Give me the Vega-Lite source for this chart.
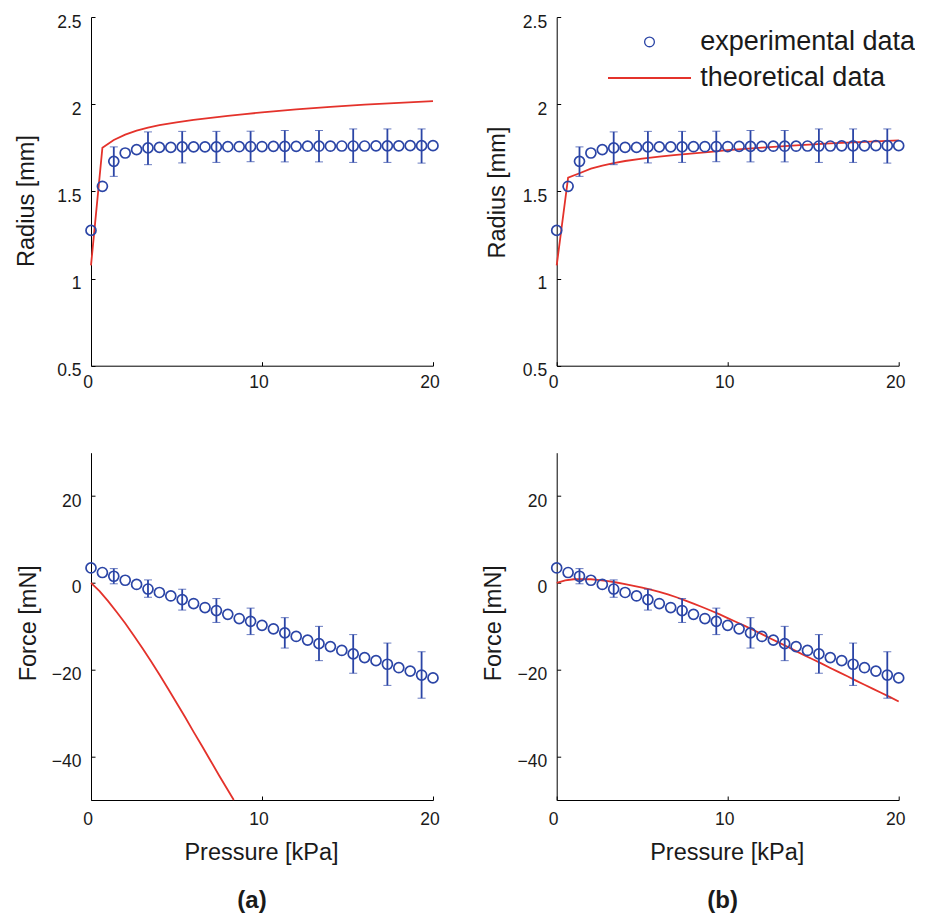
{
  "$schema": "https://vega.github.io/schema/vega-lite/v6.json",
  "padding": {"left": 14, "top": 13, "right": 0, "bottom": 0},
  "background": "white",
  "config": {
    "font": "Liberation Sans",
    "view": {"stroke": null},
    "axis": {"grid": false, "domainColor": "#000000", "domainWidth": 1, "tickColor": "#000000", "tickWidth": 1, "tickSize": -4, "labelFontSize": 17.5, "labelColor": "#1a1a1a", "titleFontSize": 23.5, "titleFontWeight": "normal", "titleColor": "#1a1a1a", "labelFlush": false, "labelOverlap": false},
    "axisX": {"labelPadding": 12, "labelOffset": -3.5},
    "axisY": {"labelPadding": 14, "labelOffset": 5, "titleBaseline": "alphabetic"}
  },
  "datasets": {
    "exp": [
      {"p": 0, "r": 1.276, "f": 3.45},
      {"p": 0.667, "r": 1.529, "f": 2.4},
      {"p": 1.333, "r": 1.672, "f": 1.54},
      {"p": 2, "r": 1.72, "f": 0.62},
      {"p": 2.667, "r": 1.739, "f": -0.35},
      {"p": 3.333, "r": 1.749, "f": -1.4},
      {"p": 4, "r": 1.752, "f": -2.2},
      {"p": 4.667, "r": 1.752, "f": -3.0},
      {"p": 5.333, "r": 1.755, "f": -3.83},
      {"p": 6, "r": 1.755, "f": -4.75},
      {"p": 6.667, "r": 1.755, "f": -5.67},
      {"p": 7.333, "r": 1.755, "f": -6.36},
      {"p": 8, "r": 1.756, "f": -7.23},
      {"p": 8.667, "r": 1.756, "f": -8.2},
      {"p": 9.333, "r": 1.757, "f": -8.85},
      {"p": 10, "r": 1.757, "f": -9.77},
      {"p": 10.667, "r": 1.758, "f": -10.57},
      {"p": 11.333, "r": 1.758, "f": -11.5},
      {"p": 12, "r": 1.758, "f": -12.33},
      {"p": 12.667, "r": 1.759, "f": -13.17},
      {"p": 13.333, "r": 1.759, "f": -13.98},
      {"p": 14, "r": 1.759, "f": -14.67},
      {"p": 14.667, "r": 1.76, "f": -15.55},
      {"p": 15.333, "r": 1.76, "f": -16.35},
      {"p": 16, "r": 1.76, "f": -17.2},
      {"p": 16.667, "r": 1.761, "f": -17.9},
      {"p": 17.333, "r": 1.761, "f": -18.73},
      {"p": 18, "r": 1.761, "f": -19.53},
      {"p": 18.667, "r": 1.762, "f": -20.3},
      {"p": 19.333, "r": 1.762, "f": -21.22},
      {"p": 20, "r": 1.762, "f": -21.88}
    ],
    "err": [
      {"p": 1.333, "rlo": 1.586, "rhi": 1.755, "flo": -0.2, "fhi": 3.3},
      {"p": 3.333, "rlo": 1.653, "rhi": 1.841, "flo": -3.3, "fhi": 0.7},
      {"p": 5.333, "rlo": 1.663, "rhi": 1.844, "flo": -6.25, "fhi": -1.45},
      {"p": 7.333, "rlo": 1.666, "rhi": 1.844, "flo": -9.1, "fhi": -3.6},
      {"p": 9.333, "rlo": 1.67, "rhi": 1.845, "flo": -11.9, "fhi": -5.8},
      {"p": 11.333, "rlo": 1.669, "rhi": 1.849, "flo": -15.0, "fhi": -8.0},
      {"p": 13.333, "rlo": 1.669, "rhi": 1.849, "flo": -17.9, "fhi": -10.0},
      {"p": 15.333, "rlo": 1.666, "rhi": 1.858, "flo": -20.8, "fhi": -11.9},
      {"p": 17.333, "rlo": 1.666, "rhi": 1.858, "flo": -23.6, "fhi": -13.85},
      {"p": 19.333, "rlo": 1.662, "rhi": 1.858, "flo": -26.55, "fhi": -15.85}
    ],
    "thAR": [
      {"p": 0, "v": 1.075}, {"p": 0.667, "v": 1.75}, {"p": 1.333, "v": 1.795}, {"p": 2, "v": 1.825},
      {"p": 2.667, "v": 1.848}, {"p": 3.333, "v": 1.866}, {"p": 4, "v": 1.88}, {"p": 5, "v": 1.896},
      {"p": 6, "v": 1.91}, {"p": 7, "v": 1.922}, {"p": 8, "v": 1.933}, {"p": 9, "v": 1.943},
      {"p": 10, "v": 1.953}, {"p": 12, "v": 1.97}, {"p": 14, "v": 1.985}, {"p": 16, "v": 1.998},
      {"p": 18, "v": 2.008}, {"p": 20, "v": 2.017}
    ],
    "thBR": [
      {"p": 0, "v": 1.075}, {"p": 0.667, "v": 1.578}, {"p": 1.333, "v": 1.604}, {"p": 2, "v": 1.63},
      {"p": 2.667, "v": 1.648}, {"p": 3.333, "v": 1.662}, {"p": 4, "v": 1.674}, {"p": 5, "v": 1.688},
      {"p": 6, "v": 1.699}, {"p": 7, "v": 1.709}, {"p": 8, "v": 1.718}, {"p": 9, "v": 1.727},
      {"p": 10, "v": 1.736}, {"p": 12, "v": 1.751}, {"p": 14, "v": 1.764}, {"p": 16, "v": 1.775},
      {"p": 18, "v": 1.784}, {"p": 20, "v": 1.792}
    ],
    "thAF": [
      {"p": 0, "v": 0}, {"p": 0.5, "v": -1.9}, {"p": 1, "v": -4.2}, {"p": 1.5, "v": -6.7},
      {"p": 2, "v": -9.3}, {"p": 2.5, "v": -12.1}, {"p": 3, "v": -15.0}, {"p": 3.5, "v": -18.0},
      {"p": 4, "v": -21.1}, {"p": 4.5, "v": -24.3}, {"p": 5, "v": -27.6}, {"p": 5.5, "v": -30.9},
      {"p": 6, "v": -34.3}, {"p": 6.5, "v": -37.6}, {"p": 7, "v": -41.0}, {"p": 7.5, "v": -44.4},
      {"p": 8, "v": -47.7}, {"p": 8.35, "v": -50}
    ],
    "thBF": [
      {"p": 0, "v": 0}, {"p": 0.5, "v": 0.6}, {"p": 1, "v": 0.85}, {"p": 1.5, "v": 0.9},
      {"p": 2, "v": 0.85}, {"p": 2.5, "v": 0.65}, {"p": 3, "v": 0.4}, {"p": 3.5, "v": 0.1},
      {"p": 4, "v": -0.25}, {"p": 4.5, "v": -0.65}, {"p": 5, "v": -1.1}, {"p": 5.5, "v": -1.55},
      {"p": 6, "v": -2.05}, {"p": 6.5, "v": -2.65}, {"p": 7, "v": -3.3}, {"p": 7.5, "v": -4.0},
      {"p": 8, "v": -4.75}, {"p": 8.5, "v": -5.55}, {"p": 9, "v": -6.35}, {"p": 9.5, "v": -7.2},
      {"p": 10, "v": -8.1}, {"p": 10.5, "v": -9.0}, {"p": 11, "v": -9.9}, {"p": 11.5, "v": -10.85},
      {"p": 12, "v": -11.8}, {"p": 12.5, "v": -12.8}, {"p": 13, "v": -13.75}, {"p": 13.5, "v": -14.7},
      {"p": 14, "v": -15.7}, {"p": 14.5, "v": -16.7}, {"p": 15, "v": -17.65}, {"p": 15.5, "v": -18.6},
      {"p": 16, "v": -19.6}, {"p": 16.5, "v": -20.55}, {"p": 17, "v": -21.5}, {"p": 17.5, "v": -22.5},
      {"p": 18, "v": -23.45}, {"p": 18.5, "v": -24.4}, {"p": 19, "v": -25.35}, {"p": 19.5, "v": -26.3},
      {"p": 20, "v": -27.3}
    ]
  },
  "columns": 2,
  "spacing": {"row": 86.7, "column": 123.7},
  "bounds": "flush",
  "concat": [
    {
      "width": 342, "height": 348.7,
      "encoding": {
        "x": {"field": "p", "type": "quantitative", "scale": {"domain": [0, 20], "nice": false}, "axis": {"values": [0, 10, 20], "title": null}}
      },
      "layer": [
        {
          "data": {"name": "thAR"},
          "mark": {"type": "line", "color": "#e4322b", "strokeWidth": 1.8},
          "encoding": {
            "y": {"field": "v", "type": "quantitative", "scale": {"domain": [0.5, 2.5], "nice": false}, "axis": {"values": [0.5, 1, 1.5, 2, 2.5], "format": "~g", "title": "Radius [mm]", "titleX": -57.3, "titleY": 183.5}}
          }
        },
        {
          "data": {"name": "err"},
          "mark": {"type": "errorbar", "color": "#2b45a6", "ticks": {"size": 8, "strokeWidth": 1.8}, "rule": {"strokeWidth": 1.8}},
          "encoding": {
            "y": {"field": "rlo", "type": "quantitative", "scale": {"domain": [0.5, 2.5], "nice": false}, "axis": {"values": [0.5, 1, 1.5, 2, 2.5], "format": "~g", "title": "Radius [mm]", "titleX": -57.3, "titleY": 183.5}},
            "y2": {"field": "rhi"}
          }
        },
        {
          "data": {"name": "exp"},
          "mark": {"type": "point", "shape": "circle", "filled": false, "size": 100, "color": "#2b45a6", "strokeWidth": 1.7, "opacity": 1},
          "encoding": {
            "y": {"field": "r", "type": "quantitative", "scale": {"domain": [0.5, 2.5], "nice": false}, "axis": {"values": [0.5, 1, 1.5, 2, 2.5], "format": "~g", "title": "Radius [mm]", "titleX": -57.3, "titleY": 183.5}}
          }
        }
      ]
    },
    {
      "width": 342, "height": 348.7,
      "encoding": {
        "x": {"field": "p", "type": "quantitative", "scale": {"domain": [0, 20], "nice": false}, "axis": {"values": [0, 10, 20], "title": null}}
      },
      "layer": [
        {
          "data": {"name": "thBR"},
          "mark": {"type": "line", "strokeWidth": 1.8},
          "encoding": {
            "y": {"field": "v", "type": "quantitative", "scale": {"domain": [0.5, 2.5], "nice": false}, "axis": {"values": [0.5, 1, 1.5, 2, 2.5], "format": "~g", "title": "Radius [mm]", "titleX": -52, "titleY": 175}},
            "color": {"datum": "theoretical data", "type": "nominal",
              "scale": {"domain": ["experimental data", "theoretical data"], "range": ["#2b45a6", "#e4322b"]},
              "legend": {"title": null, "orient": "none", "legendX": 545, "legendY": 11.4, "padding": 0, "symbolSize": 6889, "labelFontSize": 27, "labelOffset": 37.3, "labelLimit": 0, "labelColor": "#1a1a1a", "labelFont": "Liberation Sans", "rowPadding": 8,
                "encode": {"symbols": {"update": {
                  "shape": {"signal": "datum.value === 'experimental data' ? 'circle' : 'stroke'"},
                  "size": {"signal": "datum.value === 'experimental data' ? 95 : 6889"},
                  "strokeWidth": {"signal": "datum.value === 'experimental data' ? 1.3 : 2"}
                }}}}
            }
          }
        },
        {
          "data": {"name": "err"},
          "mark": {"type": "errorbar", "color": "#2b45a6", "ticks": {"size": 8, "strokeWidth": 1.8}, "rule": {"strokeWidth": 1.8}},
          "encoding": {
            "y": {"field": "rlo", "type": "quantitative", "scale": {"domain": [0.5, 2.5], "nice": false}, "axis": {"values": [0.5, 1, 1.5, 2, 2.5], "format": "~g", "title": "Radius [mm]", "titleX": -52, "titleY": 175}},
            "y2": {"field": "rhi"}
          }
        },
        {
          "data": {"name": "exp"},
          "mark": {"type": "point", "shape": "circle", "filled": false, "size": 100, "strokeWidth": 1.7, "opacity": 1},
          "encoding": {
            "y": {"field": "r", "type": "quantitative", "scale": {"domain": [0.5, 2.5], "nice": false}, "axis": {"values": [0.5, 1, 1.5, 2, 2.5], "format": "~g", "title": "Radius [mm]", "titleX": -52, "titleY": 175}},
            "color": {"datum": "experimental data", "type": "nominal"}
          }
        }
      ]
    },
    {
      "width": 342, "height": 347.3,
      "title": {"text": "(a)", "orient": "bottom", "frame": "group", "anchor": "middle", "fontSize": 24, "fontWeight": "bold", "color": "#1a1a1a", "offset": 25, "dx": -10},
      "encoding": {
        "x": {"field": "p", "type": "quantitative", "scale": {"domain": [0, 20], "nice": false}, "axis": {"values": [0, 10, 20], "title": "Pressure [kPa]", "titleBaseline": "alphabetic", "titleX": 170, "titleY": 59.3, "labelPadding": 14.5}}
      },
      "layer": [
        {
          "data": {"name": "thAF"},
          "mark": {"type": "line", "color": "#e4322b", "strokeWidth": 1.8},
          "encoding": {
            "y": {"field": "v", "type": "quantitative", "scale": {"domain": [-50, 30], "nice": false}, "axis": {"values": [-40, -20, 0, 20], "title": "Force [mN]", "titleX": -56, "titleY": 170}}
          }
        },
        {
          "data": {"name": "err"},
          "mark": {"type": "errorbar", "color": "#2b45a6", "ticks": {"size": 8, "strokeWidth": 1.8}, "rule": {"strokeWidth": 1.8}},
          "encoding": {
            "y": {"field": "flo", "type": "quantitative", "scale": {"domain": [-50, 30], "nice": false}, "axis": {"values": [-40, -20, 0, 20], "title": "Force [mN]", "titleX": -56, "titleY": 170}},
            "y2": {"field": "fhi"}
          }
        },
        {
          "data": {"name": "exp"},
          "mark": {"type": "point", "shape": "circle", "filled": false, "size": 100, "color": "#2b45a6", "strokeWidth": 1.7, "opacity": 1},
          "encoding": {
            "y": {"field": "f", "type": "quantitative", "scale": {"domain": [-50, 30], "nice": false}, "axis": {"values": [-40, -20, 0, 20], "title": "Force [mN]", "titleX": -56, "titleY": 170}}
          }
        }
      ]
    },
    {
      "width": 342, "height": 347.3,
      "title": {"text": "(b)", "orient": "bottom", "frame": "group", "anchor": "middle", "fontSize": 24, "fontWeight": "bold", "color": "#1a1a1a", "offset": 25, "dx": -5},
      "encoding": {
        "x": {"field": "p", "type": "quantitative", "scale": {"domain": [0, 20], "nice": false}, "axis": {"values": [0, 10, 20], "title": "Pressure [kPa]", "titleBaseline": "alphabetic", "titleX": 170, "titleY": 59.3, "labelPadding": 14.5}}
      },
      "layer": [
        {
          "data": {"name": "thBF"},
          "mark": {"type": "line", "color": "#e4322b", "strokeWidth": 1.8},
          "encoding": {
            "y": {"field": "v", "type": "quantitative", "scale": {"domain": [-50, 30], "nice": false}, "axis": {"values": [-40, -20, 0, 20], "title": "Force [mN]", "titleX": -56, "titleY": 170}}
          }
        },
        {
          "data": {"name": "err"},
          "mark": {"type": "errorbar", "color": "#2b45a6", "ticks": {"size": 8, "strokeWidth": 1.8}, "rule": {"strokeWidth": 1.8}},
          "encoding": {
            "y": {"field": "flo", "type": "quantitative", "scale": {"domain": [-50, 30], "nice": false}, "axis": {"values": [-40, -20, 0, 20], "title": "Force [mN]", "titleX": -56, "titleY": 170}},
            "y2": {"field": "fhi"}
          }
        },
        {
          "data": {"name": "exp"},
          "mark": {"type": "point", "shape": "circle", "filled": false, "size": 100, "color": "#2b45a6", "strokeWidth": 1.7, "opacity": 1},
          "encoding": {
            "y": {"field": "f", "type": "quantitative", "scale": {"domain": [-50, 30], "nice": false}, "axis": {"values": [-40, -20, 0, 20], "title": "Force [mN]", "titleX": -56, "titleY": 170}}
          }
        }
      ]
    }
  ]
}
